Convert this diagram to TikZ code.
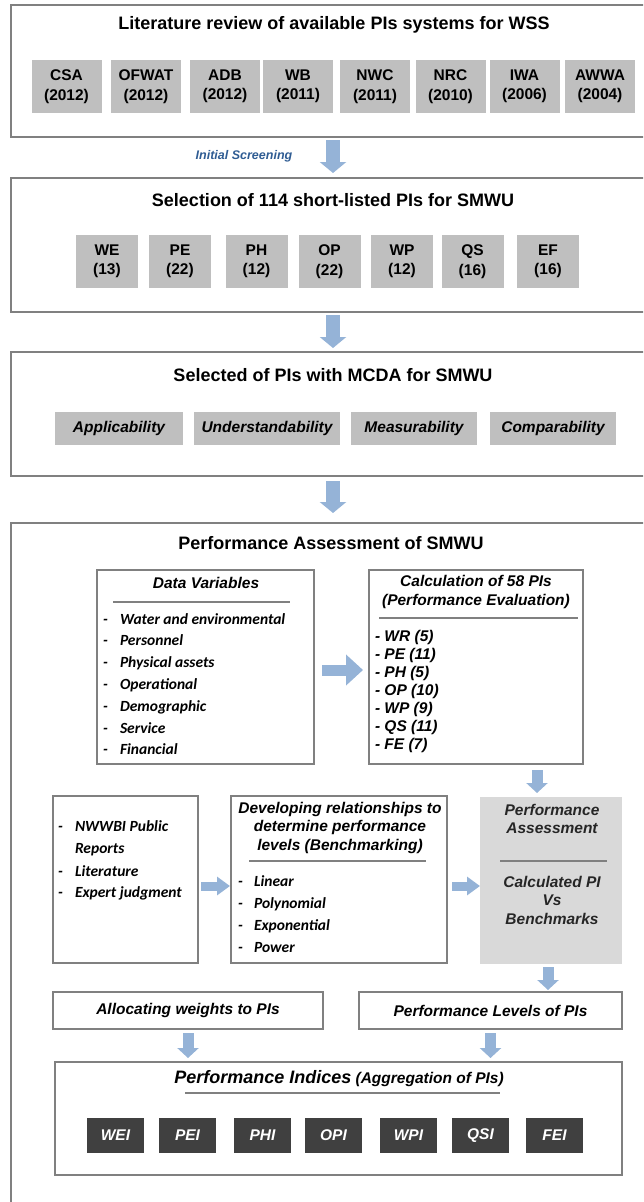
\documentclass[tikz,border=0pt]{standalone}
\usepackage{fontspec}
\setmainfont{Liberation Sans}
\newfontfamily\calibri{Carlito}
\usepackage{tikz}
\usetikzlibrary{calc}
\usetikzlibrary{arrows.meta}

\definecolor{framec}{HTML}{808080}
\definecolor{boxc}{HTML}{BFBFBF}
\definecolor{assessc}{HTML}{D9D9D9}
\definecolor{darkc}{HTML}{404040}
\definecolor{arrowc}{HTML}{95B3D7}
\definecolor{screenc}{HTML}{2F5C93}

\begin{document}
\begin{tikzpicture}[x=1pt, y=-1pt, inner sep=0pt, outer sep=0pt,
  outern/.style={draw=framec, line width=2pt, anchor=north west, minimum width=660pt},
  boxn/.style={draw=framec, line width=1.5pt, anchor=north west},
  titlen/.style={font=\fontsize{18}{21}\selectfont\bfseries},
  headn/.style={font=\fontsize{15.5}{18.5}\selectfont\bfseries\itshape, align=center},
  grayn/.style={fill=boxc, minimum height=53pt, align=center, font=\fontsize{15.5}{19.5}\selectfont\bfseries},
  critn/.style={fill=boxc, minimum height=33pt, font=\fontsize{15.5}{17}\selectfont\bfseries\itshape},
  darkn/.style={fill=darkc, text=white, minimum width=57pt, minimum height=35pt, font=\fontsize{15.5}{17}\selectfont\bfseries\itshape},
  listn/.style={anchor=west, text height=11pt, text depth=3pt, font=\fontsize{15.5}{18}\selectfont\bfseries\itshape},
  caln/.style={anchor=west, text height=11pt, text depth=3pt, font=\calibri\fontsize{15.5}{18}\selectfont\bfseries\itshape},
  rulen/.style={draw=framec, line width=2pt},
  arrown/.style={draw=arrowc, line width=14pt, -{Triangle[length=11pt, width=26pt]}},
  midarrown/.style={draw=arrowc, line width=11pt, -{Triangle[length=10pt, width=21pt]}},
  smallarrown/.style={draw=arrowc, line width=9pt, -{Triangle[length=13pt, width=18pt]}},
  bigarrown/.style={draw=arrowc, line width=11pt, -{Triangle[length=17pt, width=30pt]}}]
  \useasboundingbox (0,0) rectangle (643,1202);
  \clip (0,0) rectangle (643,1202);

  % stage frames
  \node[outern, minimum height=132pt] (litbox) at (11,5) {};
  \node[outern, minimum height=134pt] (selbox) at (11,178) {};
  \node[outern, minimum height=124pt] (mcdabox) at (11,352) {};
  \node[outern, minimum height=720pt] (pabox) at (11,523) {};

  % literature review
  \node[titlen] (littitle) at (334,25) {Literature review of available PIs systems for WSS};
  \foreach \name/\yr/\x [count=\i] in {CSA/2012/66.5, OFWAT/2012/146, ADB/2012/225, WB/2011/298,
    NWC/2011/375, NRC/2010/450.5, IWA/2006/524.5, AWWA/2004/600}
    \node[grayn, minimum width=70pt] (sys\i) at (\x,86.5) {\name\\(\yr)};

  % short list
  \node[titlen] (seltitle) at (333,200) {Selection of 114 short-listed PIs for SMWU};
  \foreach \name/\n/\x [count=\i] in {WE/13/107, PE/22/180, PH/12/256.5, OP/22/329.5,
    WP/12/402, QS/16/472.5, EF/16/548}
    \node[grayn, minimum width=62pt] (cat\i) at (\x,261.5) {\name\\(\n)};

  % MCDA
  \node[titlen] (mcdatitle) at (333,375) {Selected of PIs with MCDA for SMWU};
  \foreach \name/\x/\w [count=\i] in {Applicability/119/128, Understandability/267/146,
    Measurability/414/126, Comparability/553/126}
    \node[critn, minimum width=\w pt] (crit\i) at (\x,428.5) {\name};

  \coordinate (ax) at (333,0);
  \draw[arrown, shorten <=3pt, shorten >=5pt] (litbox.south -| ax) -- (selbox.north -| ax);
  \node[font=\fontsize{12.5}{14}\selectfont\bfseries\itshape, text=screenc] (screen) at (244,156) {Initial Screening};
  \draw[arrown, shorten <=3pt, shorten >=4pt] (selbox.south -| ax) -- (mcdabox.north -| ax);
  \draw[arrown, shorten <=5pt, shorten >=10pt] (mcdabox.south -| ax) -- (pabox.north -| ax);

  % performance assessment
  \node[titlen] (patitle) at (331,543) {Performance Assessment of SMWU};

  \node[boxn, minimum width=217pt, minimum height=194pt] (databox) at (97,570) {};
  \node[headn] (datatitle) at (206,583) {Data Variables};
  \draw[rulen] (113,602) -- (290,602);
  \foreach \txt [count=\i] in {Water and environmental, Personnel, Physical assets, Operational,
    Demographic, Service, Financial}{
    \node[caln] (dvd\i) at (103,{620+21.8*(\i-1)}) {-};
    \node[caln] (dv\i) at (120,{620+21.8*(\i-1)}) {\txt};
  }

  \node[boxn, minimum width=214pt, minimum height=194pt] (calcbox) at (369,570) {};
  \node[headn] (calctitle) at (476,592) {Calculation of 58 PIs\\(Performance Evaluation)};
  \draw[rulen] (379,618) -- (578,618);
  \foreach \txt [count=\i] in {WR (5), PE (11), PH (5), OP (10), WP (9), QS (11), FE (7)}
    \node[listn] (pi\i) at (375,{637+18*(\i-1)}) {- \txt};

  \coordinate (ay) at (0,670);
  \draw[bigarrown, shorten <=8pt, shorten >=6pt] (databox.east |- ay) -- (calcbox.west |- ay);

  % benchmarking row
  \node[boxn, minimum width=145pt, minimum height=167pt] (srcbox) at (53,796) {};
  \node[caln] (srcd1) at (58,827) {-};
  \node[caln] (src1) at (75,827) {NWWBI Public};
  \node[caln] (src2) at (75,849) {Reports};
  \node[caln] (srcd3) at (58,872) {-};
  \node[caln] (src3) at (75,872) {Literature};
  \node[caln] (srcd4) at (58,893) {-};
  \node[caln] (src4) at (75,893) {Expert judgment};

  \node[boxn, minimum width=216pt, minimum height=167pt] (relbox) at (231,796) {};
  \node[headn] (reltitle) at (340,827.5) {Developing relationships to\\determine performance\\levels (Benchmarking)};
  \draw[rulen] (249,861) -- (426,861);
  \foreach \txt [count=\i] in {Linear, Polynomial, Exponential, Power}{
    \node[caln] (reld\i) at (238,{882+22*(\i-1)}) {-};
    \node[caln] (rel\i) at (254,{882+22*(\i-1)}) {\txt};
  }

  \node[fill=assessc, anchor=north west, minimum width=142pt, minimum height=167pt] (pcbox) at (480,797) {};
  \node[headn, text=black!85] (pctop) at (552,819) {Performance\\Assessment};
  \draw[rulen] (500,861) -- (607,861);
  \node[headn, text=black!85] (pcbot) at (552,900) {Calculated PI\\Vs\\Benchmarks};

  \coordinate (bx) at (537,0);
  \draw[midarrown, shorten <=6pt, shorten >=4pt] (calcbox.south -| bx) -- (pcbox.north -| bx);
  \coordinate (cy) at (0,886);
  \draw[smallarrown, shorten <=3pt, shorten >=1pt] (srcbox.east |- cy) -- (relbox.west |- cy);
  \draw[smallarrown, shorten <=5pt] (relbox.east |- cy) -- (pcbox.west |- cy);

  % weights and levels
  \node[boxn, headn, minimum width=270pt, minimum height=37pt] (alloc) at (53,992) {Allocating weights to PIs};
  \node[boxn, headn, minimum width=263pt, minimum height=37pt] (plev) at (359,992) {Performance Levels of PIs};
  \coordinate (cx) at (548,0);
  \draw[midarrown, shorten <=3pt, shorten >=2pt] (pcbox.south -| cx) -- (plev.north -| cx);

  % indices
  \node[boxn, minimum width=567pt, minimum height=113pt] (pibox) at (55,1062) {};
  \node[font=\fontsize{15.5}{18}\selectfont\bfseries\itshape] (pititle) at (339,1079)
    {{\fontsize{18}{20}\selectfont Performance Indices} (Aggregation of PIs)};
  \draw[rulen] (185,1093) -- (500,1093);
  \foreach \txt/\x [count=\i] in {WEI/115.5, PEI/187.5, PHI/262.5, OPI/333.5, WPI/408.5, QSI/480.5, FEI/554.5}
    \node[darkn] (idx\i) at (\x,1135.5) {\txt};

  \draw[midarrown, shorten <=4pt, shorten >=4pt] (alloc.south) -- (alloc.south |- pibox.north);
  \draw[midarrown, shorten <=4pt, shorten >=4pt] (plev.south) -- (plev.south |- pibox.north);
\end{tikzpicture}
\end{document}
